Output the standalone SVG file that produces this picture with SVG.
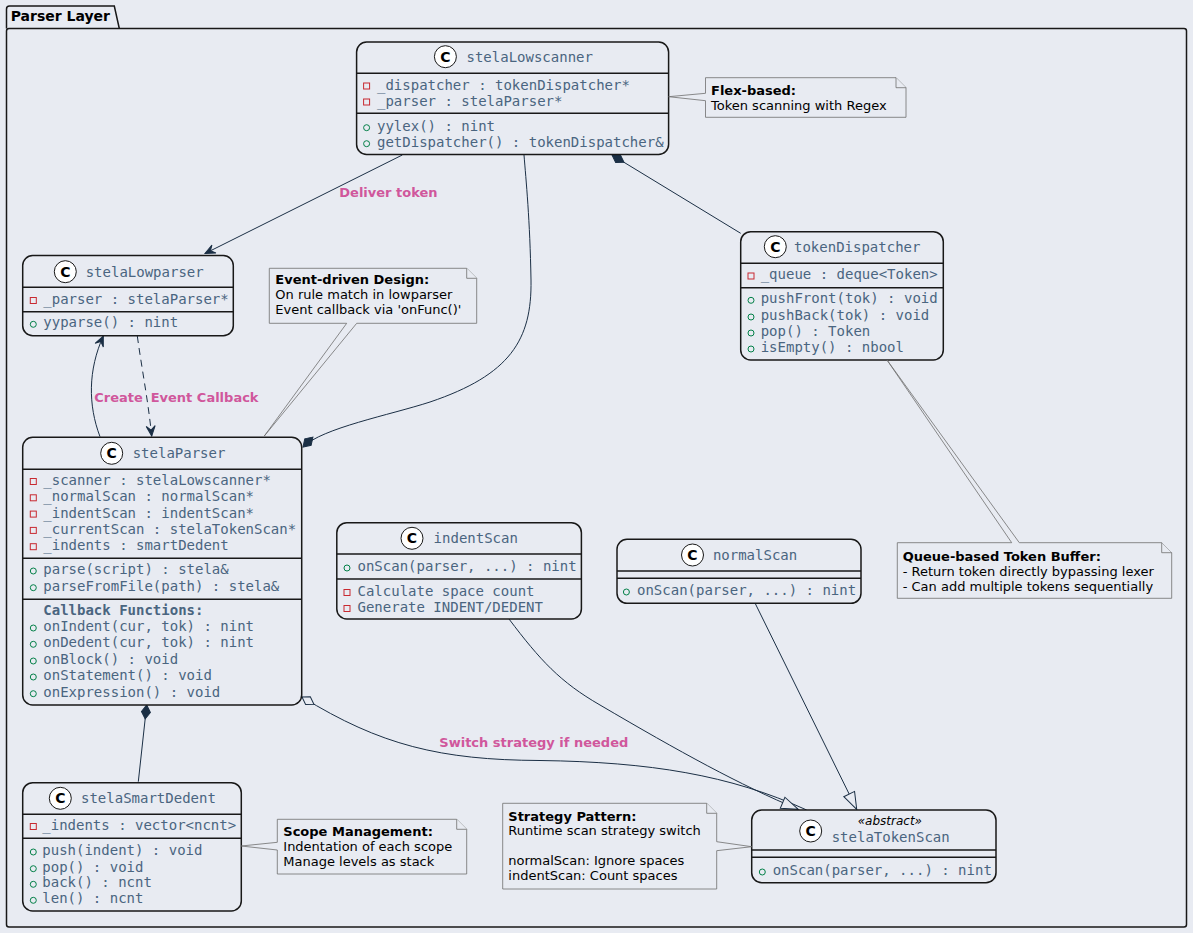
<svg xmlns="http://www.w3.org/2000/svg" width="1193" height="933" viewBox="0 0 1193 933">
<style>
.bg{fill:#E8EBF2}
.box{fill:#E8EBF2;stroke:#181818;stroke-width:1.5}
.sep{stroke:#181818;stroke-width:1.5}
.spot{fill:#FFFFFF;stroke:#181818;stroke-width:1}
.spotc{font-family:"DejaVu Sans",sans-serif;font-size:14px;font-weight:bold;fill:#000;text-anchor:middle}
.cn{font-family:"DejaVu Sans Mono",monospace;font-size:14px;fill:#4A6580}
.cb{font-family:"DejaVu Sans Mono",monospace;font-size:14px;font-weight:bold;fill:#4A6580}
.st{font-family:"DejaVu Sans",sans-serif;font-size:12px;font-style:italic;fill:#000}
.pv{fill:none;stroke:#C82930;stroke-width:1}
.pb{fill:none;stroke:#038048;stroke-width:1}
.note{fill:#E8EBF2;stroke:#6E6E6E;stroke-width:0.8}
.nt{font-family:"DejaVu Sans",sans-serif;font-size:13px;fill:#000}
.ntb{font-family:"DejaVu Sans",sans-serif;font-size:13px;font-weight:bold;fill:#000}
.lb{font-family:"DejaVu Sans",sans-serif;font-size:13px;font-weight:bold;fill:#D0579C}
.ln{fill:none;stroke:#1B2F45;stroke-width:1}
.pk{fill:none;stroke:#181818;stroke-width:1.5}
.pkt{font-family:"DejaVu Sans",sans-serif;font-size:14px;font-weight:bold;fill:#000}
</style>
<defs>
<marker id="arr" markerUnits="userSpaceOnUse" orient="auto" overflow="visible" markerWidth="12" markerHeight="12" refX="0" refY="0">
<path d="M0,0 L-10,-4.5 L-6,0 L-10,4.5 Z" fill="#1B2F45" stroke="#1B2F45" stroke-width="1"/>
</marker>
<marker id="dia" markerUnits="userSpaceOnUse" orient="auto" overflow="visible" markerWidth="16" markerHeight="16" refX="0" refY="0">
<path d="M0,0 L7,-4.5 L14,0 L7,4.5 Z" fill="#1B2F45" stroke="#1B2F45" stroke-width="1"/>
</marker>
<marker id="odia" markerUnits="userSpaceOnUse" orient="auto" overflow="visible" markerWidth="16" markerHeight="16" refX="0" refY="0">
<path d="M0,0 L7,-4.5 L14,0 L7,4.5 Z" fill="#E8EBF2" stroke="#1B2F45" stroke-width="1"/>
</marker>
<marker id="tri" markerUnits="userSpaceOnUse" orient="auto" overflow="visible" markerWidth="20" markerHeight="20" refX="0" refY="0">
<path d="M0,0 L-17,-6 L-17,6 Z" fill="#E8EBF2" stroke="#1B2F45" stroke-width="1"/>
</marker>
</defs>
<rect x="0" y="0" width="1193" height="933" class="bg"/>

<g id="package">
<path class="pk" d="M6.5,28.5 L6.5,9 Q6.5,6 9.5,6 L114.3,6 L119.3,28.5"/>
<rect class="pk" x="6.5" y="28.5" width="1180" height="898.5" rx="2.5"/>
<text class="pkt" x="10.7" y="21">Parser Layer</text>
</g>

<g id="connectors">
<path class="ln" d="M402.3,155 L205,253.5" marker-end="url(#arr)"/>
<text class="lb" x="339.3" y="196.7">Deliver token</text>
<path class="ln" d="M612,155 L740.7,233.3" marker-start="url(#dia)"/>
<path class="ln" d="M303,447 C322,428 390,415 430,402 C510,375 532,340 531,280 C530,220 526,180 524,155" marker-start="url(#dia)"/>
<path class="ln" d="M100,436.7 C88,405 88,370 103.3,336" marker-end="url(#arr)"/>
<text class="lb" x="94.3" y="402.3">Create</text>
<path class="ln" d="M137.3,336 C142,370 148,400 151.7,436" stroke-dasharray="7,5" marker-end="url(#arr)"/>
<text class="lb" x="150.7" y="402.3">Event Callback</text>
<path class="ln" d="M146.7,705 L138.3,781.7" marker-start="url(#dia)"/>
<path class="ln" d="M302,697 C380,745 440,760 540,760.5 C650,762 730,775 806.7,810" marker-start="url(#odia)"/>
<text class="lb" x="439.3" y="747.3">Switch strategy if needed</text>
<path class="ln" d="M509,619 C540,660 560,682 600,705 C680,752 740,785 798.3,809.3" marker-end="url(#tri)"/>
<path class="ln" d="M755,603 L856.7,809.3" marker-end="url(#tri)"/>
</g>

<g id="stelaLowscanner">
<rect class="box" x="356.6" y="42" width="312" height="112.5" rx="10"/>
<circle class="spot" cx="445.4" cy="56.7" r="11"/>
<text class="spotc" x="445.4" y="61.7">C</text>
<text class="cn" x="466.5" y="61.7">stelaLowscanner</text>
<line class="sep" x1="356.6" y1="73.3" x2="668.6" y2="73.3"/>
<rect class="pv" x="363.6" y="83" width="6" height="6"/>
<text class="cn" x="377" y="89.5">_dispatcher : tokenDispatcher*</text>
<rect class="pv" x="363.6" y="99" width="6" height="6"/>
<text class="cn" x="377" y="105.5">_parser : stelaParser*</text>
<line class="sep" x1="356.6" y1="113.3" x2="668.6" y2="113.3"/>
<circle class="pb" cx="366.6" cy="127.7" r="3"/>
<text class="cn" x="377" y="130.7">yylex() : nint</text>
<circle class="pb" cx="366.6" cy="143.7" r="3"/>
<text class="cn" x="377" y="146.7">getDispatcher() : tokenDispatcher&amp;</text>
</g>

<g id="noteFlex">
<path class="note" d="M705.5,77.7 L896,77.7 L906,87.7 L906,117.3 L705.5,117.3 L705.5,100.7 L668.6,96.7 L705.5,93.3 Z"/>
<path class="note" d="M896,77.7 L896,87.7 L906,87.7"/>
<text class="ntb" x="711" y="95">Flex-based:</text>
<text class="nt" x="711" y="110">Token scanning with Regex</text>
</g>

<g id="stelaLowparser">
<rect class="box" x="22.7" y="255.5" width="210.6" height="80.2" rx="10"/>
<circle class="spot" cx="65.3" cy="271.7" r="11"/>
<text class="spotc" x="65.3" y="276.7">C</text>
<text class="cn" x="85.7" y="276.5">stelaLowparser</text>
<line class="sep" x1="22.7" y1="287.3" x2="233.3" y2="287.3"/>
<rect class="pv" x="30.3" y="297.5" width="6" height="6"/>
<text class="cn" x="43.3" y="304">_parser : stelaParser*</text>
<line class="sep" x1="22.7" y1="311.7" x2="233.3" y2="311.7"/>
<circle class="pb" cx="33.3" cy="324.3" r="3"/>
<text class="cn" x="43.3" y="327.3">yyparse() : nint</text>
</g>

<g id="noteEvent">
<path class="note" d="M269.3,268.3 L466.7,268.3 L476.7,278.3 L476.7,323.3 L356.7,323.3 L264.3,436 L346.7,323.3 L269.3,323.3 Z"/>
<path class="note" d="M466.7,268.3 L466.7,278.3 L476.7,278.3"/>
<text class="ntb" x="275.3" y="284.3">Event-driven Design:</text>
<text class="nt" x="275.3" y="299.3">On rule match in lowparser</text>
<text class="nt" x="275.3" y="314.3">Event callback via 'onFunc()'</text>
</g>

<g id="tokenDispatcher">
<rect class="box" x="740.7" y="231.7" width="202.6" height="128.3" rx="10"/>
<circle class="spot" cx="775.3" cy="246.7" r="11"/>
<text class="spotc" x="775.3" y="251.7">C</text>
<text class="cn" x="794" y="251.7">tokenDispatcher</text>
<line class="sep" x1="740.7" y1="263.3" x2="943.3" y2="263.3"/>
<rect class="pv" x="748" y="273" width="6" height="6"/>
<text class="cn" x="760.7" y="279.3">_queue : deque&lt;Token&gt;</text>
<line class="sep" x1="740.7" y1="287.7" x2="943.3" y2="287.7"/>
<circle class="pb" cx="751" cy="300.3" r="3"/>
<text class="cn" x="760.7" y="303.3">pushFront(tok) : void</text>
<circle class="pb" cx="751" cy="317" r="3"/>
<text class="cn" x="760.7" y="320">pushBack(tok) : void</text>
<circle class="pb" cx="751" cy="333" r="3"/>
<text class="cn" x="760.7" y="336">pop() : Token</text>
<circle class="pb" cx="751" cy="349" r="3"/>
<text class="cn" x="760.7" y="352">isEmpty() : nbool</text>
</g>

<g id="noteQueue">
<path class="note" d="M897.3,542.7 L1011.7,542.7 L887,360 L1019.3,542.7 L1161.7,542.7 L1171.7,552.7 L1171.7,598.3 L897.3,598.3 Z"/>
<path class="note" d="M1161.7,542.7 L1161.7,552.7 L1171.7,552.7"/>
<text class="ntb" x="902.7" y="561">Queue-based Token Buffer:</text>
<text class="nt" x="902.7" y="576">- Return token directly bypassing lexer</text>
<text class="nt" x="902.7" y="590.7">- Can add multiple tokens sequentially</text>
</g>

<g id="stelaParser">
<rect class="box" x="22.7" y="437.3" width="279" height="267.7" rx="10"/>
<circle class="spot" cx="111.7" cy="453.3" r="11"/>
<text class="spotc" x="111.7" y="458.3">C</text>
<text class="cn" x="132.7" y="458">stelaParser</text>
<line class="sep" x1="22.7" y1="469.3" x2="301.7" y2="469.3"/>
<rect class="pv" x="30.3" y="478.5" width="6" height="6"/>
<text class="cn" x="43.3" y="485">_scanner : stelaLowscanner*</text>
<rect class="pv" x="30.3" y="494.8" width="6" height="6"/>
<text class="cn" x="43.3" y="501.3">_normalScan : normalScan*</text>
<rect class="pv" x="30.3" y="511.1" width="6" height="6"/>
<text class="cn" x="43.3" y="517.6">_indentScan : indentScan*</text>
<rect class="pv" x="30.3" y="527.4" width="6" height="6"/>
<text class="cn" x="43.3" y="533.9">_currentScan : stelaTokenScan*</text>
<rect class="pv" x="30.3" y="543.7" width="6" height="6"/>
<text class="cn" x="43.3" y="550.2">_indents : smartDedent</text>
<line class="sep" x1="22.7" y1="558.3" x2="301.7" y2="558.3"/>
<circle class="pb" cx="33.3" cy="571" r="3"/>
<text class="cn" x="43.3" y="574">parse(script) : stela&amp;</text>
<circle class="pb" cx="33.3" cy="587.7" r="3"/>
<text class="cn" x="43.3" y="590.7">parseFromFile(path) : stela&amp;</text>
<line class="sep" x1="22.7" y1="599.3" x2="301.7" y2="599.3"/>
<text class="cb" x="43.3" y="615">Callback Functions:</text>
<circle class="pb" cx="33.3" cy="628" r="3"/>
<text class="cn" x="43.3" y="631">onIndent(cur, tok) : nint</text>
<circle class="pb" cx="33.3" cy="644.3" r="3"/>
<text class="cn" x="43.3" y="647.3">onDedent(cur, tok) : nint</text>
<circle class="pb" cx="33.3" cy="661" r="3"/>
<text class="cn" x="43.3" y="664">onBlock() : void</text>
<circle class="pb" cx="33.3" cy="677" r="3"/>
<text class="cn" x="43.3" y="680">onStatement() : void</text>
<circle class="pb" cx="33.3" cy="693.7" r="3"/>
<text class="cn" x="43.3" y="696.7">onExpression() : void</text>
</g>

<g id="indentScan">
<rect class="box" x="336.8" y="522.7" width="244.6" height="96.3" rx="10"/>
<circle class="spot" cx="412" cy="538.3" r="11"/>
<text class="spotc" x="412" y="543.3">C</text>
<text class="cn" x="433.6" y="543">indentScan</text>
<line class="sep" x1="336.8" y1="554" x2="581.4" y2="554"/>
<circle class="pb" cx="347" cy="568" r="3"/>
<text class="cn" x="357.5" y="571">onScan(parser, ...) : nint</text>
<line class="sep" x1="336.8" y1="579" x2="581.4" y2="579"/>
<rect class="pv" x="344" y="589.5" width="6" height="6"/>
<text class="cn" x="357.5" y="595.7">Calculate space count</text>
<rect class="pv" x="344" y="605.5" width="6" height="6"/>
<text class="cn" x="357.5" y="611.7">Generate INDENT/DEDENT</text>
</g>

<g id="normalScan">
<rect class="box" x="617" y="539.3" width="244" height="64" rx="10"/>
<circle class="spot" cx="692.5" cy="555" r="11"/>
<text class="spotc" x="692.5" y="560">C</text>
<text class="cn" x="712.9" y="560">normalScan</text>
<line class="sep" x1="617" y1="571" x2="861" y2="571"/>
<line class="sep" x1="617" y1="578.3" x2="861" y2="578.3"/>
<circle class="pb" cx="626.4" cy="592" r="3"/>
<text class="cn" x="637" y="595">onScan(parser, ...) : nint</text>
</g>

<g id="stelaTokenScan">
<rect class="box" x="751.7" y="810" width="244.3" height="72.7" rx="10"/>
<circle class="spot" cx="810.7" cy="831" r="11"/>
<text class="spotc" x="810.7" y="836">C</text>
<text class="st" x="857.7" y="825">«abstract»</text>
<text class="cn" x="831.7" y="841.7">stelaTokenScan</text>
<line class="sep" x1="751.7" y1="850" x2="996" y2="850"/>
<line class="sep" x1="751.7" y1="857.3" x2="996" y2="857.3"/>
<circle class="pb" cx="762.3" cy="872" r="3"/>
<text class="cn" x="772.7" y="875">onScan(parser, ...) : nint</text>
</g>

<g id="noteStrategy">
<path class="note" d="M502.7,803.3 L706.7,803.3 L716.7,813.3 L716.7,841.7 L751.7,846.7 L716.7,850.7 L716.7,889 L502.7,889 Z"/>
<path class="note" d="M706.7,803.3 L706.7,813.3 L716.7,813.3"/>
<text class="ntb" x="508.3" y="820.7">Strategy Pattern:</text>
<text class="nt" x="508.3" y="835">Runtime scan strategy switch</text>
<text class="nt" x="508.3" y="865">normalScan: Ignore spaces</text>
<text class="nt" x="508.3" y="880">indentScan: Count spaces</text>
</g>

<g id="stelaSmartDedent">
<rect class="box" x="22.7" y="782.7" width="218.6" height="128.3" rx="10"/>
<circle class="spot" cx="60.3" cy="798.3" r="11"/>
<text class="spotc" x="60.3" y="803.3">C</text>
<text class="cn" x="81" y="803">stelaSmartDedent</text>
<line class="sep" x1="22.7" y1="814.3" x2="241.3" y2="814.3"/>
<rect class="pv" x="30.3" y="823.5" width="6" height="6"/>
<text class="cn" x="42.3" y="830">_indents : vector&lt;ncnt&gt;</text>
<line class="sep" x1="22.7" y1="838.3" x2="241.3" y2="838.3"/>
<circle class="pb" cx="33.3" cy="852" r="3"/>
<text class="cn" x="42.3" y="855">push(indent) : void</text>
<circle class="pb" cx="33.3" cy="868.7" r="3"/>
<text class="cn" x="42.3" y="871.7">pop() : void</text>
<circle class="pb" cx="33.3" cy="884.3" r="3"/>
<text class="cn" x="42.3" y="887.3">back() : ncnt</text>
<circle class="pb" cx="33.3" cy="900.3" r="3"/>
<text class="cn" x="42.3" y="903.3">len() : ncnt</text>
</g>

<g id="noteScope">
<path class="note" d="M277.3,819.3 L456.7,819.3 L466.7,829.3 L466.7,874 L277.3,874 L277.3,850 L241.3,846 L277.3,842.3 Z"/>
<path class="note" d="M456.7,819.3 L456.7,829.3 L466.7,829.3"/>
<text class="ntb" x="283.3" y="835.7">Scope Management:</text>
<text class="nt" x="283.3" y="850.7">Indentation of each scope</text>
<text class="nt" x="283.3" y="865.7">Manage levels as stack</text>
</g>
</svg>
